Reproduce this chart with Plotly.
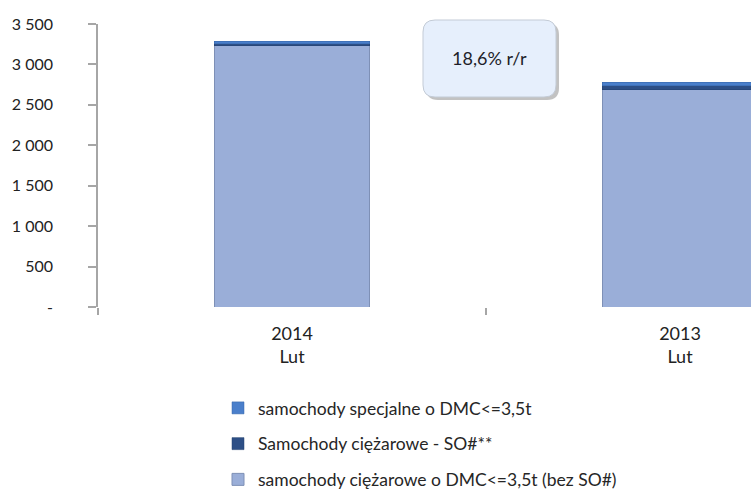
import plotly.graph_objects as go

categories = ["2014<br>Lut", "2013<br>Lut"]
ciezarowe_bez_so = [3232, 2686]
ciezarowe_so = [25, 48]
specjalne = [28, 45]
y_tickvals = [0, 500, 1000, 1500, 2000, 2500, 3000, 3500]
y_ticktext = ["-", "500", "1 000", "1 500", "2 000", "2 500", "3 000", "3 500"]
callout_text = "18,6% r/r"

FONT = "Lato, Open Sans, sans-serif"

fig = go.Figure()
fig.add_bar(x=categories, y=ciezarowe_bez_so,
            name="samochody ciężarowe o DMC<=3,5t (bez SO#)",
            marker=dict(color="#9aaed8", line=dict(color="#7e90b6", width=1)),
            legendgroup="c", legendrank=3, width=0.4)
fig.add_bar(x=categories, y=ciezarowe_so,
            name="Samochody ciężarowe - SO#**",
            marker=dict(color="#2d4f86", line=dict(color="#24406e", width=0.5)),
            legendgroup="b", legendrank=2, width=0.4)
fig.add_bar(x=categories, y=specjalne,
            name="samochody specjalne o DMC<=3,5t",
            marker=dict(color="#4a7fcb", line=dict(color="#3566a8", width=0.5)),
            legendgroup="a", legendrank=1, width=0.4)

FW, FH = 751, 492
L, T = 98, 24
B = FH - 307
W, H = FW - L, 307 - T

def rrect(x0, y0, x1, y1, r):
    rx, ry = r / W, r / H
    return (f"M {x0+rx},{y1} L {x1-rx},{y1} Q {x1},{y1} {x1},{y1-ry} "
            f"L {x1},{y0+ry} Q {x1},{y0} {x1-rx},{y0} L {x0+rx},{y0} "
            f"Q {x0},{y0} {x0},{y0+ry} L {x0},{y1-ry} Q {x0},{y1} {x0+rx},{y1} Z")

def px_x(p):
    return (p - L) / W

def px_y(p):
    return (307 - p) / H

bx0, bx1 = px_x(423), px_x(556)
by0, by1 = px_y(97), px_y(20)
sx, sy = 3 / W, 3 / H
shapes = [
    dict(type="path", xref="paper", yref="paper",
         path=rrect(bx0 + sx, by0 - sy, bx1 + sx, by1 - sy, 12),
         fillcolor="rgba(120,120,120,0.45)", line=dict(width=0), layer="above"),
    dict(type="path", xref="paper", yref="paper",
         path=rrect(bx0, by0, bx1, by1, 12),
         fillcolor="#e6effc", line=dict(color="#c3cbd6", width=1), layer="above"),
]

fig.update_layout(
    barmode="stack",
    width=FW, height=FH,
    margin=dict(l=L, r=0, t=T, b=B, autoexpand=False),
    paper_bgcolor="white", plot_bgcolor="white",
    font=dict(family=FONT, size=16, color="#222222"),
    shapes=shapes,
    annotations=[dict(xref="paper", yref="paper", x=(bx0 + bx1) / 2, y=(by0 + by1) / 2,
                      xanchor="center", yanchor="middle",
                      text=callout_text, showarrow=False,
                      font=dict(family=FONT, size=18, color="#1e1e2a"))],
    legend=dict(x=px_x(218), xanchor="left",
                yref="container", y=(FH - 390) / FH, yanchor="top",
                traceorder="grouped", tracegroupgap=10,
                font=dict(family=FONT, size=17.5, color="#262626"),
                bgcolor="rgba(0,0,0,0)"),
    showlegend=True,
    hovermode=False,
)
fig.update_xaxes(type="category", range=[-0.5, 1.183], showline=False,
                 showgrid=False, ticks="outside", tickson="boundaries",
                 ticklen=7, tickcolor="#a6a6a6", tickwidth=1.5,
                 ticklabelstandoff=14,
                 tickfont=dict(family=FONT, size=18, color="#222222"))
fig.update_yaxes(range=[0, 3500], tickvals=y_tickvals, ticktext=y_ticktext,
                 showline=True, linecolor="#a6a6a6", linewidth=1.5,
                 showgrid=False, zeroline=False, ticks="outside", ticklen=8,
                 tickcolor="#a6a6a6", tickwidth=1.5, ticklabelstandoff=32,
                 tickfont=dict(family=FONT, size=16, color="#222222"))

fig.write_html("out.html", config={"displayModeBar": False},
               post_script="document.body.style.margin='0';document.body.style.overflow='hidden';")
